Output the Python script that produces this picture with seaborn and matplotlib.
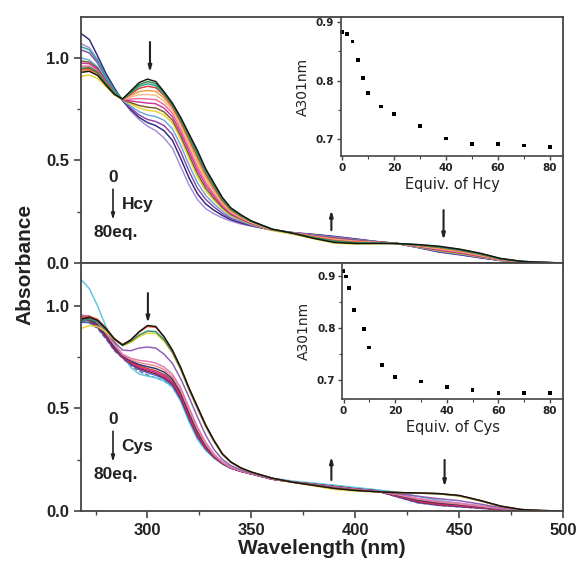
import matplotlib

matplotlib.use("Agg")

import matplotlib.pyplot as plt
import pandas as pd
import seaborn as sns
from matplotlib.ticker import AutoMinorLocator, MultipleLocator

WAVELENGTH = [268, 272, 276, 280, 284, 288, 292, 296, 300, 304, 308, 312, 316, 320, 324,
              328, 332, 336, 340, 345, 350, 360, 370, 380, 390, 400, 410, 420, 430, 440,
              450, 460, 470, 480, 490, 500]

HCY_EQUIV = [0, 2, 4, 6, 8, 10, 15, 20, 30, 40, 50, 60, 70, 80]
HCY_COLORS = ["#151515", "#2e8b3e", "#23a39b", "#e23b2e", "#f39a3a", "#f7b98a", "#f06aa0",
              "#c8379a", "#7a5a2a", "#e6d230", "#6fa8dc", "#8e44ad", "#2c2a7c", "#a98bd6"]
HCY_SPECTRA = [
    [0.93, 0.935, 0.915, 0.868, 0.823, 0.800, 0.840, 0.880, 0.897, 0.885, 0.835, 0.780, 0.710, 0.630, 0.550, 0.460, 0.390, 0.320, 0.270, 0.235, 0.205,
     0.165, 0.145, 0.120, 0.100, 0.095, 0.095, 0.095, 0.090, 0.082, 0.068, 0.048, 0.022, 0.008, 0.003, 0.0],
    [0.95, 0.953, 0.93, 0.876, 0.828, 0.800, 0.835, 0.870, 0.885, 0.875, 0.830, 0.775, 0.705, 0.622, 0.540, 0.452, 0.382, 0.315, 0.266, 0.232, 0.204,
     0.165, 0.145, 0.122, 0.103, 0.097, 0.096, 0.095, 0.089, 0.080, 0.066, 0.046, 0.021, 0.008, 0.003, 0.0],
    [1.055, 1.04, 0.985, 0.91, 0.845, 0.799, 0.830, 0.862, 0.874, 0.865, 0.824, 0.770, 0.698, 0.615, 0.530, 0.444, 0.375, 0.310, 0.263, 0.230, 0.203,
     0.164, 0.145, 0.124, 0.106, 0.099, 0.097, 0.095, 0.088, 0.078, 0.064, 0.044, 0.020, 0.008, 0.003, 0.0],
    [0.945, 0.948, 0.927, 0.874, 0.827, 0.799, 0.825, 0.852, 0.862, 0.855, 0.817, 0.764, 0.690, 0.605, 0.520, 0.435, 0.368, 0.305, 0.260, 0.228, 0.202,
     0.164, 0.146, 0.126, 0.109, 0.101, 0.098, 0.095, 0.087, 0.076, 0.062, 0.042, 0.019, 0.007, 0.003, 0.0],
    [0.935, 0.94, 0.92, 0.87, 0.825, 0.798, 0.818, 0.836, 0.842, 0.837, 0.805, 0.755, 0.680, 0.593, 0.505, 0.422, 0.358, 0.298, 0.255, 0.225, 0.200,
     0.163, 0.146, 0.128, 0.112, 0.103, 0.099, 0.095, 0.085, 0.073, 0.059, 0.040, 0.018, 0.007, 0.002, 0.0],
    [0.94, 0.945, 0.925, 0.872, 0.826, 0.798, 0.810, 0.820, 0.822, 0.818, 0.790, 0.744, 0.667, 0.578, 0.490, 0.408, 0.348, 0.292, 0.251, 0.222, 0.198,
     0.163, 0.146, 0.129, 0.114, 0.105, 0.100, 0.095, 0.084, 0.071, 0.057, 0.038, 0.017, 0.007, 0.002, 0.0],
    [0.96, 0.96, 0.935, 0.88, 0.83, 0.797, 0.800, 0.802, 0.800, 0.797, 0.773, 0.730, 0.652, 0.562, 0.472, 0.394, 0.337, 0.285, 0.246, 0.219, 0.196,
     0.162, 0.147, 0.131, 0.117, 0.107, 0.101, 0.095, 0.083, 0.068, 0.054, 0.036, 0.016, 0.006, 0.002, 0.0],
    [0.975, 0.972, 0.943, 0.885, 0.832, 0.797, 0.790, 0.785, 0.780, 0.777, 0.755, 0.714, 0.636, 0.545, 0.455, 0.380, 0.326, 0.278, 0.242, 0.216, 0.194,
     0.162, 0.147, 0.132, 0.119, 0.109, 0.102, 0.095, 0.082, 0.066, 0.052, 0.034, 0.016, 0.006, 0.002, 0.0],
    [0.985, 0.98, 0.95, 0.89, 0.835, 0.796, 0.782, 0.768, 0.760, 0.756, 0.737, 0.697, 0.619, 0.527, 0.437, 0.365, 0.315, 0.271, 0.237, 0.213, 0.192,
     0.162, 0.147, 0.134, 0.122, 0.111, 0.103, 0.095, 0.080, 0.063, 0.049, 0.032, 0.015, 0.006, 0.002, 0.0],
    [0.91, 0.917, 0.90, 0.86, 0.82, 0.796, 0.775, 0.756, 0.745, 0.740, 0.722, 0.683, 0.604, 0.510, 0.420, 0.352, 0.305, 0.264, 0.232, 0.210, 0.190,
     0.158, 0.140, 0.118, 0.097, 0.092, 0.094, 0.095, 0.079, 0.061, 0.047, 0.031, 0.014, 0.005, 0.002, 0.0],
    [1.0, 0.99, 0.957, 0.895, 0.838, 0.795, 0.765, 0.738, 0.722, 0.714, 0.696, 0.655, 0.574, 0.478, 0.392, 0.330, 0.288, 0.253, 0.225, 0.205, 0.187,
     0.161, 0.148, 0.136, 0.125, 0.113, 0.104, 0.095, 0.078, 0.059, 0.045, 0.029, 0.014, 0.005, 0.002, 0.0],
    [1.04, 1.025, 0.975, 0.905, 0.842, 0.794, 0.756, 0.722, 0.700, 0.690, 0.670, 0.627, 0.543, 0.447, 0.365, 0.310, 0.273, 0.242, 0.218, 0.200, 0.184,
     0.161, 0.148, 0.137, 0.127, 0.115, 0.104, 0.095, 0.077, 0.057, 0.043, 0.028, 0.013, 0.005, 0.002, 0.0],
    [1.12, 1.09, 1.01, 0.925, 0.855, 0.793, 0.748, 0.710, 0.685, 0.670, 0.645, 0.598, 0.510, 0.415, 0.338, 0.288, 0.257, 0.232, 0.212, 0.195, 0.182,
     0.160, 0.148, 0.139, 0.129, 0.117, 0.105, 0.095, 0.076, 0.055, 0.041, 0.026, 0.012, 0.005, 0.002, 0.0],
    [1.07, 1.05, 0.993, 0.915, 0.848, 0.792, 0.740, 0.700, 0.668, 0.645, 0.610, 0.560, 0.470, 0.380, 0.310, 0.265, 0.240, 0.220, 0.205, 0.190, 0.180,
     0.160, 0.148, 0.140, 0.130, 0.118, 0.105, 0.095, 0.075, 0.053, 0.040, 0.025, 0.012, 0.005, 0.002, 0.0],
]

CYS_EQUIV = [0, 1, 2, 4, 8, 10, 15, 20, 30, 40, 50, 60, 70, 80]
CYS_COLORS = ["#151515", "#e8532c", "#2a8f6a", "#e6d230", "#8e5bb5", "#e07ab0", "#f08a8a",
              "#2c2e6e", "#d0343a", "#c02a8a", "#8a2040", "#4060c0", "#5cc6e0", "#6b6fa0"]
CYS_DASHED = [80]
CYS_SPECTRA = [
    [0.935, 0.945, 0.93, 0.89, 0.84, 0.810, 0.835, 0.875, 0.905, 0.900, 0.850, 0.785, 0.700, 0.600, 0.510, 0.420, 0.345, 0.280, 0.240, 0.210, 0.190,
     0.160, 0.140, 0.125, 0.110, 0.100, 0.094, 0.090, 0.088, 0.085, 0.076, 0.052, 0.024, 0.007, 0.002, 0.0],
    [0.945, 0.95, 0.935, 0.893, 0.842, 0.812, 0.835, 0.872, 0.900, 0.896, 0.848, 0.783, 0.698, 0.598, 0.508, 0.418, 0.343, 0.279, 0.240, 0.210, 0.190,
     0.160, 0.140, 0.126, 0.111, 0.101, 0.094, 0.090, 0.088, 0.085, 0.075, 0.051, 0.023, 0.007, 0.002, 0.0],
    [0.925, 0.935, 0.922, 0.885, 0.838, 0.808, 0.828, 0.858, 0.878, 0.875, 0.835, 0.775, 0.692, 0.593, 0.503, 0.414, 0.340, 0.277, 0.238, 0.209, 0.189,
     0.160, 0.141, 0.126, 0.112, 0.102, 0.095, 0.090, 0.087, 0.084, 0.074, 0.050, 0.023, 0.007, 0.002, 0.0],
    [0.89, 0.905, 0.90, 0.875, 0.835, 0.806, 0.822, 0.850, 0.868, 0.866, 0.828, 0.770, 0.688, 0.590, 0.500, 0.411, 0.338, 0.276, 0.237, 0.208, 0.189,
     0.159, 0.139, 0.122, 0.105, 0.097, 0.093, 0.090, 0.087, 0.083, 0.073, 0.049, 0.022, 0.006, 0.002, 0.0],
    [0.95, 0.95, 0.925, 0.88, 0.825, 0.785, 0.782, 0.795, 0.800, 0.795, 0.765, 0.720, 0.645, 0.555, 0.460, 0.370, 0.300, 0.252, 0.222, 0.200, 0.185,
     0.158, 0.141, 0.128, 0.115, 0.104, 0.096, 0.085, 0.072, 0.060, 0.050, 0.034, 0.016, 0.005, 0.002, 0.0],
    [0.955, 0.952, 0.925, 0.875, 0.815, 0.765, 0.745, 0.735, 0.730, 0.722, 0.702, 0.668, 0.600, 0.505, 0.412, 0.335, 0.278, 0.240, 0.214, 0.196, 0.183,
     0.157, 0.141, 0.129, 0.117, 0.105, 0.097, 0.082, 0.062, 0.048, 0.038, 0.026, 0.012, 0.004, 0.001, 0.0],
    [0.95, 0.945, 0.918, 0.868, 0.81, 0.762, 0.738, 0.724, 0.716, 0.708, 0.690, 0.655, 0.588, 0.492, 0.400, 0.326, 0.273, 0.237, 0.212, 0.195, 0.182,
     0.157, 0.141, 0.129, 0.117, 0.106, 0.097, 0.080, 0.058, 0.044, 0.034, 0.023, 0.011, 0.004, 0.001, 0.0],
    [0.94, 0.935, 0.91, 0.86, 0.80, 0.758, 0.732, 0.714, 0.704, 0.695, 0.678, 0.645, 0.578, 0.480, 0.390, 0.320, 0.270, 0.235, 0.211, 0.195, 0.182,
     0.156, 0.141, 0.130, 0.118, 0.106, 0.098, 0.078, 0.054, 0.040, 0.031, 0.021, 0.010, 0.004, 0.001, 0.0],
    [0.955, 0.948, 0.918, 0.863, 0.80, 0.755, 0.727, 0.707, 0.695, 0.684, 0.666, 0.636, 0.568, 0.470, 0.380, 0.314, 0.267, 0.234, 0.211, 0.194, 0.182,
     0.156, 0.141, 0.130, 0.118, 0.107, 0.098, 0.076, 0.050, 0.036, 0.028, 0.019, 0.009, 0.003, 0.001, 0.0],
    [0.945, 0.94, 0.91, 0.855, 0.795, 0.752, 0.722, 0.700, 0.688, 0.676, 0.658, 0.628, 0.560, 0.462, 0.373, 0.310, 0.265, 0.233, 0.210, 0.194, 0.181,
     0.156, 0.141, 0.130, 0.119, 0.107, 0.098, 0.074, 0.047, 0.033, 0.025, 0.017, 0.008, 0.003, 0.001, 0.0],
    [0.93, 0.928, 0.90, 0.85, 0.79, 0.750, 0.718, 0.695, 0.682, 0.669, 0.650, 0.620, 0.552, 0.455, 0.367, 0.306, 0.263, 0.232, 0.210, 0.193, 0.181,
     0.155, 0.141, 0.131, 0.119, 0.108, 0.099, 0.072, 0.044, 0.030, 0.023, 0.015, 0.007, 0.003, 0.001, 0.0],
    [0.92, 0.92, 0.895, 0.845, 0.787, 0.748, 0.714, 0.690, 0.675, 0.662, 0.644, 0.613, 0.545, 0.448, 0.362, 0.303, 0.262, 0.231, 0.209, 0.193, 0.181,
     0.155, 0.141, 0.131, 0.120, 0.108, 0.099, 0.070, 0.041, 0.028, 0.021, 0.014, 0.006, 0.002, 0.001, 0.0],
    [1.13, 1.085, 1.0, 0.90, 0.82, 0.760, 0.700, 0.668, 0.658, 0.650, 0.635, 0.605, 0.535, 0.435, 0.350, 0.295, 0.258, 0.230, 0.210, 0.195, 0.182,
     0.160, 0.146, 0.136, 0.126, 0.115, 0.104, 0.092, 0.072, 0.052, 0.038, 0.024, 0.010, 0.003, 0.001, 0.0],
    [0.925, 0.918, 0.89, 0.84, 0.783, 0.745, 0.708, 0.682, 0.663, 0.650, 0.634, 0.605, 0.538, 0.442, 0.357, 0.300, 0.260, 0.230, 0.209, 0.193, 0.180,
     0.155, 0.140, 0.130, 0.120, 0.108, 0.099, 0.069, 0.040, 0.027, 0.020, 0.013, 0.006, 0.002, 0.001, 0.0],
]

HCY_A301_EQ = [0, 2, 4, 6, 8, 10, 15, 20, 30, 40, 50, 60, 70, 80]
HCY_A301 = [0.883, 0.880, 0.867, 0.835, 0.805, 0.779, 0.756, 0.743, 0.722, 0.701, 0.692, 0.691, 0.689, 0.686]
CYS_A301_EQ = [0, 1, 2, 4, 8, 10, 15, 20, 30, 40, 50, 60, 70, 80]
CYS_A301 = [0.910, 0.899, 0.877, 0.834, 0.798, 0.762, 0.728, 0.706, 0.697, 0.686, 0.680, 0.675, 0.675, 0.675]

INK = "#222222"
FRAME = "#444444"
LEFT, RIGHT = 0.1399, 0.9724


def spectra_frame(equivs, spectra, dashed=()):
    rows = []
    for eq, values in zip(equivs, spectra):
        assert len(values) == len(WAVELENGTH)
        for wl, a in zip(WAVELENGTH, values):
            rows.append({"wavelength": wl, "absorbance": a, "equiv": f"{eq} eq",
                         "line": "dash" if eq in dashed else "solid"})
    return pd.DataFrame(rows)


def style_frame(ax):
    for spine in ax.spines.values():
        spine.set_color(FRAME)
        spine.set_linewidth(1.3)
    ax.tick_params(which="major", direction="out", length=5, width=1.2, color=FRAME,
                   labelsize=12, labelcolor=INK)
    ax.tick_params(which="minor", direction="out", length=3, width=1.0, color=FRAME)
    for label in ax.get_xticklabels() + ax.get_yticklabels():
        label.set_fontweight("bold")


def draw_spectra(ax, equivs, spectra, colors, ymax, dashed=()):
    data = spectra_frame(equivs, spectra, dashed)
    levels = [f"{eq} eq" for eq in equivs]
    palette = dict(zip(levels, colors))
    sns.lineplot(data=data, x="wavelength", y="absorbance", hue="equiv", style="line",
                 hue_order=levels[::-1], palette=palette,
                 dashes={"solid": "", "dash": (3, 1.5)}, estimator=None, sort=False,
                 linewidth=1.05, legend=False, ax=ax)
    ax.set_xlim(268, 500)
    ax.set_ylim(0, ymax)
    ax.xaxis.set_major_locator(MultipleLocator(50))
    ax.xaxis.set_minor_locator(MultipleLocator(25))
    ax.yaxis.set_major_locator(MultipleLocator(0.5))
    ax.yaxis.set_minor_locator(MultipleLocator(0.25))
    ax.set_xlabel("")
    ax.set_ylabel("")


def draw_inset(fig, rect, x, y, xlabel, ylim):
    ins = fig.add_axes(rect, facecolor="none")
    sns.scatterplot(x=x, y=y, ax=ins, color="black", marker="s", s=7,
                    edgecolor="none", clip_on=False)
    sns.despine(ax=ins)
    ins.set_xlim(-0.4, 85)
    ins.set_ylim(*ylim)
    ins.xaxis.set_major_locator(MultipleLocator(20))
    ins.xaxis.set_minor_locator(AutoMinorLocator(2))
    ins.yaxis.set_major_locator(MultipleLocator(0.1))
    ins.yaxis.set_minor_locator(AutoMinorLocator(2))
    for side in ("left", "bottom"):
        ins.spines[side].set_color(FRAME)
        ins.spines[side].set_linewidth(1.2)
    ins.tick_params(which="major", direction="out", length=3, width=1.0, color=FRAME,
                    labelsize=7.5, labelcolor=INK, pad=2)
    ins.tick_params(which="minor", direction="out", length=2, width=0.8, color=FRAME)
    for label in ins.get_xticklabels() + ins.get_yticklabels():
        label.set_fontweight("bold")
        label.set_family("DejaVu Sans")
    ins.set_xlabel(xlabel, fontsize=10.5, family="DejaVu Sans", color=INK, labelpad=3)
    ins.set_ylabel("A301nm", fontsize=10, family="DejaVu Sans", color=INK, labelpad=4)
    return ins


def arrow(ax, x, y_from, y_to, lw=1.5):
    ax.annotate("", xy=(x, y_to), xytext=(x, y_from),
                arrowprops=dict(arrowstyle="-|>,head_length=0.35,head_width=0.1",
                                lw=lw, color=INK, shrinkA=0, shrinkB=0))


def label_block(ax, species, y0):
    kw = dict(fontsize=12.5, fontweight="bold", color=INK)
    ax.text(283.4, y0, "0", ha="center", va="center", **kw)
    arrow(ax, 283.4, y0 - 0.055, y0 - 0.205, lw=1.2)
    ax.text(287.5, y0 - 0.13, species, ha="left", va="center", **kw)
    ax.text(284.8, y0 - 0.265, "80eq.", ha="center", va="center", **kw)


def main():
    sns.set_style("ticks")
    plt.rcParams["font.family"] = ["Liberation Sans", "DejaVu Sans"]

    fig = plt.figure(figsize=(5.79, 5.63), dpi=100)
    ax_top = fig.add_axes([LEFT, 0.5329, RIGHT - LEFT, 0.4369])
    ax_bot = fig.add_axes([LEFT, 0.0924, RIGHT - LEFT, 0.4405])

    draw_spectra(ax_top, HCY_EQUIV, HCY_SPECTRA, HCY_COLORS, 1.2)
    draw_spectra(ax_bot, CYS_EQUIV, CYS_SPECTRA, CYS_COLORS, 1.21, CYS_DASHED)
    ax_top.set_xticklabels([])

    style_frame(ax_top)
    style_frame(ax_bot)

    ax_bot.set_xlabel("Wavelength (nm)", fontsize=15, fontweight="bold", color=INK, labelpad=1)
    fig.text(0.043, 0.531, "Absorbance", rotation=90, ha="center", va="center",
             fontsize=15, fontweight="bold", color=INK)

    arrow(ax_top, 301.2, 1.078, 0.93)
    arrow(ax_top, 388.5, 0.16, 0.258)
    arrow(ax_top, 442.5, 0.258, 0.112)
    arrow(ax_bot, 300.2, 1.063, 0.917)
    arrow(ax_bot, 388.5, 0.151, 0.265)
    arrow(ax_bot, 443.0, 0.249, 0.118)

    label_block(ax_top, "Hcy", 0.415)
    label_block(ax_bot, "Cys", 0.444)

    draw_inset(fig, [0.5890, 0.7229, RIGHT - 0.5890, 0.2469], HCY_A301_EQ, HCY_A301,
               "Equiv. of Hcy", (0.671, 0.909))
    draw_inset(fig, [0.5915, 0.2913, RIGHT - 0.5915, 0.2416], CYS_A301_EQ, CYS_A301,
               "Equiv. of Cys", (0.663, 0.925))

    fig.savefig("out.png", dpi=100, facecolor="white")
    plt.close(fig)


if __name__ == "__main__":
    main()
